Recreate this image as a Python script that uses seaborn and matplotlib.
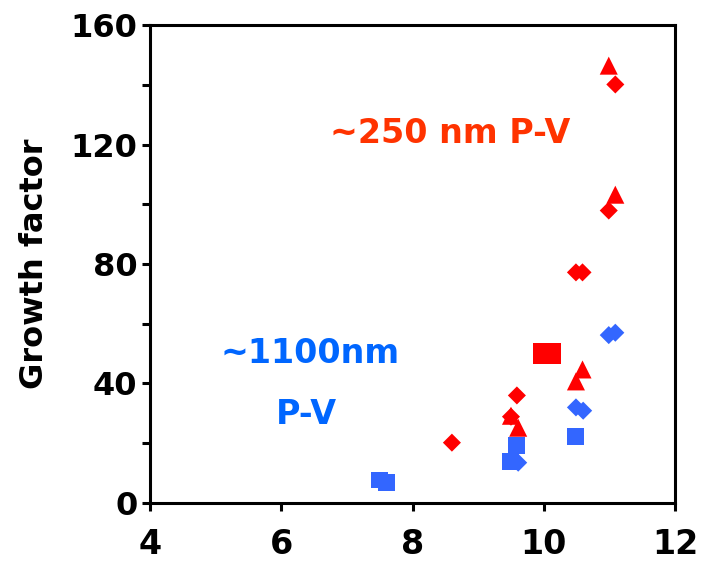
import matplotlib
matplotlib.use("Agg")
import matplotlib.pyplot as plt
import seaborn as sns
import pandas as pd
from matplotlib.ticker import MultipleLocator

sns.set_theme(style="white")
plt.rcParams['font.family'] = ['DejaVu Sans']
plt.rcParams['font.weight'] = 'bold'

# ---- data ----
blue_sq_x = [7.49, 7.60, 9.58, 9.49, 10.48]
blue_sq_y = [7.7, 7.0, 19.2, 13.9, 22.4]
blue_dm_x = [9.61, 10.49, 10.60, 10.99, 11.09]
blue_dm_y = [13.5, 32.0, 30.9, 56.2, 57.0]
red_dm_x = [8.60, 9.59, 9.50, 10.49, 10.59, 10.99, 11.09]
red_dm_y = [20.2, 36.0, 28.9, 77.2, 77.2, 97.9, 140.1]
red_tr_x = [9.50, 9.61, 10.49, 10.59, 10.99, 11.09]
red_tr_y = [29.2, 25.2, 40.7, 44.7, 146.4, 103.2]
red_sq_x = [10.00, 10.10]
red_sq_y = [50.0, 50.0]

x_ticks = [4, 6, 8, 10, 12]
y_ticks = [0, 40, 80, 120, 160]
y_label = "Growth factor"
label_red = "~250 nm P-V"
label_blue1 = "~1100nm"
label_blue2 = "P-V"

BLUE = "#3366FF"
RED = "#FF0000"

fig = plt.figure(figsize=(7.09, 5.71), dpi=100)
ax = fig.add_axes([0.2116, 0.1191, 0.7405, 0.8371])

groups = [
    (blue_sq_x, blue_sq_y, "s", 12.2, BLUE),
    (blue_dm_x, blue_dm_y, "D", 9.2, BLUE),
    (red_dm_x, red_dm_y, "D", 9.2, RED),
    (red_tr_x, red_tr_y, "^", 13.0, RED),
    (red_sq_x, red_sq_y, "s", 15.0, RED),
]
for gx, gy, mk, ms, col in groups:
    df = pd.DataFrame({"x": gx, "y": gy})
    sns.scatterplot(data=df, x="x", y="y", marker=mk, s=ms ** 2, color=col,
                    edgecolor="none", linewidth=0, ax=ax, legend=False, zorder=3)

ax.set_xlim(4, 12)
ax.set_ylim(0, 160)
ax.set_xticks(x_ticks)
ax.set_yticks(y_ticks)
ax.yaxis.set_minor_locator(MultipleLocator(20))
ax.set_xlabel("")
ax.set_ylabel(y_label, fontsize=23, fontweight="bold", labelpad=15, color="black")

for sp in ax.spines.values():
    sp.set_visible(True)
    sp.set_color("black")
    sp.set_linewidth(2.2)

ax.tick_params(axis="both", which="both", direction="out", length=6, width=2.2,
               color="black", left=True, bottom=True)
ax.tick_params(axis="y", which="major", labelsize=23, pad=3)
ax.tick_params(axis="x", which="major", labelsize=24, pad=12)
for lab in ax.get_xticklabels() + ax.get_yticklabels():
    lab.set_fontweight("bold")
    lab.set_color("black")

ax.text(8.57, 120.4, label_red, color="#FF3300", fontsize=24, fontweight="bold",
        ha="center", va="baseline")
ax.text(6.44, 46.7, label_blue1, color="#0066FF", fontsize=24, fontweight="bold",
        ha="center", va="baseline")
ax.text(6.39, 26.6, label_blue2, color="#0066FF", fontsize=24, fontweight="bold",
        ha="center", va="baseline")

fig.savefig("out.png", dpi=100, facecolor="white")
